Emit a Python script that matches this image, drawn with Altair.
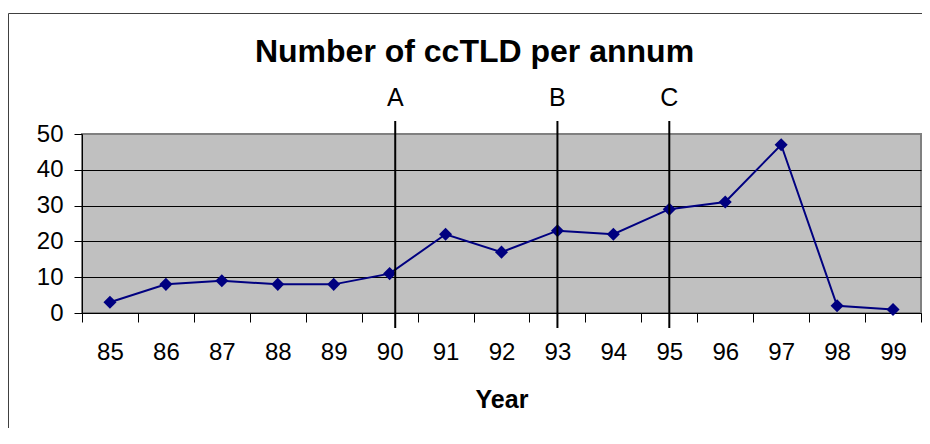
import altair as alt
import pandas as pd

years = ["85", "86", "87", "88", "89", "90", "91", "92", "93", "94", "95", "96", "97", "98", "99"]
counts = [3, 8, 9, 8, 8, 11, 22, 17, 23, 22, 29, 31, 47, 2, 1]

marker_labels = ["A", "B", "C"]
marker_years = [90.1, 93.0, 95.0]

y_ticks = [0, 10, 20, 30, 40, 50]
title_text = ["Number of ccTLD per annum"]
x_title = "Year"

FONT = "Liberation Sans"
W, H = 839, 179

df = pd.DataFrame({"year": years, "count": counts})
mk = pd.DataFrame({"label": marker_labels, "pos": marker_years})
frame_df = pd.DataFrame({"f": [0]})
title_df = pd.DataFrame({"t": title_text})

band = alt.Scale(type="band", paddingInner=0, paddingOuter=0)

x_enc = alt.X(
    "year:O",
    sort=years,
    bandPosition=0.5,
    scale=band,
    axis=alt.Axis(
        title=x_title,
        labelAngle=0,
        tickBand="extent",
        tickSize=9,
        tickColor="black",
        domainColor="black",
        labelColor="black",
        labelFont=FONT,
        labelFontSize=24,
        labelPadding=18,
        labelOverlap=False,
        titleFont=FONT,
        titleFontSize=25,
        titleFontWeight="bold",
        titleColor="black",
        titlePadding=23,
        grid=False,
    ),
)
y_axis = alt.Axis(
    title=None,
    values=y_ticks,
    tickSize=8,
    tickColor="black",
    domainColor="black",
    labelColor="black",
    labelFont=FONT,
    labelFontSize=24,
    labelPadding=11,
    labelOverlap=False,
    labelFlush=False,
    grid=True,
    gridColor={"condition": {"test": "datum.value === 50", "value": "#808080"}, "value": "black"},
    gridWidth=1,
)
y_enc = alt.Y("count:Q", scale=alt.Scale(domain=[0, 50], nice=False), axis=y_axis)

line = alt.Chart(df).mark_line(color="#000080", strokeWidth=2).encode(x=x_enc, y=y_enc)
pts = alt.Chart(df).mark_point(shape="diamond", filled=True, size=170, color="#000080", opacity=1).encode(
    x=alt.X("year:O", sort=years, bandPosition=0.5, scale=band, axis=None),
    y=y_enc,
)

xq = alt.X("pos:Q", scale=alt.Scale(domain=[84.5, 99.5], nice=False, zero=False), axis=None)
rules = alt.Chart(mk).mark_rule(color="black", strokeWidth=2, clip=False).encode(
    x=xq, y=alt.value(-13), y2=alt.value(H + 15)
)
labels = alt.Chart(mk).mark_text(
    font=FONT, fontSize=25, color="black", baseline="alphabetic", align="center", clip=False
).encode(x=xq, y=alt.value(-28), text="label:N")

frame = alt.Chart(frame_df).mark_rect(fillOpacity=0, stroke="#404040", strokeWidth=1, clip=False).encode(
    x=alt.value(-73.5), x2=alt.value(W + 200), y=alt.value(-120.5), y2=alt.value(H + 300)
)

title = alt.Chart(title_df).mark_text(
    font=FONT, fontSize=32, fontWeight="bold", color="black", baseline="alphabetic", align="center", clip=False
).encode(x=alt.value(392.5), y=alt.value(-72), text="t:N")

chart = (
    alt.layer(frame, title, line, pts, rules, labels)
    .resolve_scale(x="independent")
    .properties(
        width=W,
        height=H,
        autosize=alt.AutoSizeParams(type="none"),
        padding={"left": 74, "top": 126, "right": 1, "bottom": 115},
    )
    .configure(background="white", view=alt.ViewConfig(fill="#C0C0C0", stroke="#808080", strokeWidth=2))
)

chart.save("out.html", embed_options={"renderer": "svg", "actions": False})
